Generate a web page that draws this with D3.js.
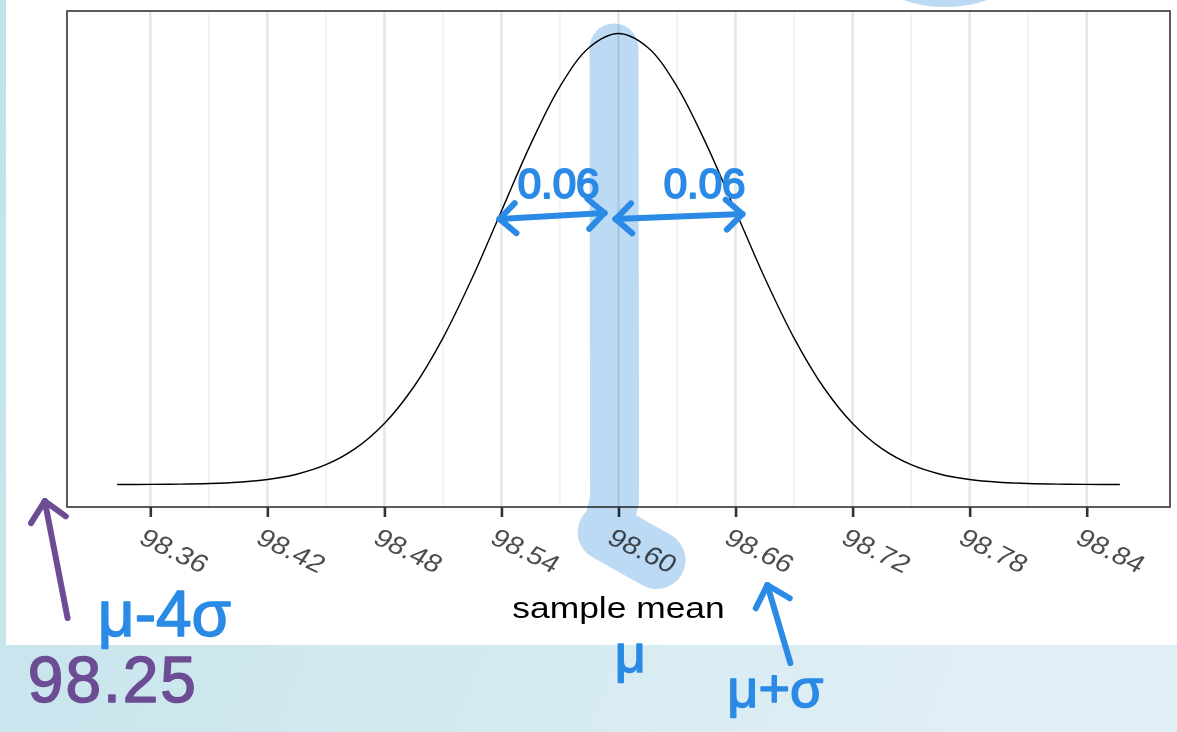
<!DOCTYPE html>
<head>
  <meta charset="utf-8">
  <title>Sample mean distribution</title>
  <style>
    body { margin: 0; background: #fff; }
    text { font-family: "Liberation Sans", Arial, sans-serif; }
  </style>
</head>
<body>
  <div id="chart"></div>
  <script src="https://d3js.org/d3.v7.min.js"></script>
  <script>
    // density curve
    var sampleMean = [98.343, 98.360, 98.375, 98.390, 98.405, 98.420, 98.435, 98.450, 98.465,
                      98.480, 98.495, 98.510, 98.525, 98.540, 98.555, 98.570, 98.585, 98.600,
                      98.615, 98.630, 98.645, 98.660, 98.675, 98.690, 98.705, 98.720, 98.735,
                      98.750, 98.765, 98.780, 98.795, 98.810, 98.825, 98.840, 98.857];
    var density = [0.001, 0.002, 0.006, 0.015, 0.034, 0.074, 0.152, 0.292, 0.529,
                   0.900, 1.438, 2.159, 3.044, 4.033, 5.019, 5.868, 6.444, 6.649,
                   6.444, 5.868, 5.019, 4.033, 3.044, 2.159, 1.438, 0.900, 0.529,
                   0.292, 0.152, 0.074, 0.034, 0.015, 0.006, 0.002, 0.001];
    var majorTicks = [98.36, 98.42, 98.48, 98.54, 98.60, 98.66, 98.72, 98.78, 98.84];
    var tickLabels = ["98.36", "98.42", "98.48", "98.54", "98.60", "98.66", "98.72", "98.78", "98.84"];
    var minorTicks = [98.39, 98.45, 98.51, 98.57, 98.63, 98.69, 98.75, 98.81];
    var xTitle = "sample mean";

    // hand-drawn notes, in (sample mean, density) units
    var highlightBand = [[98.5977, 6.436], [98.598, -0.229], [98.5939, -0.701]];
    var highlightBlob = [[98.5939, -0.701], [98.6195, -1.114]];
    var highlightTop = [98.7675, 7.468];
    var spanArrows = [[[98.539, 3.914], [98.5928, 4.003]],
                      [[98.5985, 3.914], [98.6635, 3.988]]];
    var spanLabels = [[98.5693, 4.224, "0.06"], [98.6441, 4.224, "0.06"]];
    var blueArrow = [[98.6881, -2.632], [98.6763, -1.482]];
    var blueNotes = [[98.6061, -2.76, "μ", 54], [98.6558, -3.281, "μ+σ", 54], [98.3331, -2.234, "μ-4σ", 64]];
    var purpleArrow = [[98.3176, -1.969], [98.3059, -0.244]];
    var purpleNote = [98.2972, -3.207, "98.25"];

    var width = 1177, height = 732;
    var margin = {top: 11, right: 7, bottom: 225, left: 67};
    var blue = "#2a8ae6", purple = "#6c4d94";

    var svg = d3.select("#chart").append("svg")
      .attr("width", width)
      .attr("height", height);

    // slide backdrop behind the screenshot
    var grad = svg.append("defs").append("linearGradient")
      .attr("id", "slide")
      .attr("x1", "0%").attr("x2", "100%").attr("y1", "0%").attr("y2", "25%");
    grad.append("stop").attr("offset", "0%").attr("stop-color", "#c2e2ea");
    grad.append("stop").attr("offset", "100%").attr("stop-color", "#e0eff5");
    svg.append("rect").attr("width", width).attr("height", height).attr("fill", "url(#slide)");
    svg.append("rect").attr("x", 6).attr("width", width - 6).attr("height", 645).attr("fill", "#fff");

    var xExt = d3.extent(sampleMean), yExt = d3.extent(density);
    var xPad = (xExt[1] - xExt[0]) * 0.05, yPad = (yExt[1] - yExt[0]) * 0.05;

    var x = d3.scaleLinear()
      .domain([xExt[0] - xPad, xExt[1] + xPad])
      .range([margin.left, width - margin.right]);
    var y = d3.scaleLinear()
      .domain([yExt[0] - yPad, yExt[1] + yPad])
      .range([height - margin.bottom, margin.top]);

    var panelTop = margin.top, panelBottom = height - margin.bottom;

    svg.append("g")
      .selectAll("line")
      .data(minorTicks)
      .join("line")
        .attr("x1", x).attr("x2", x)
        .attr("y1", panelTop).attr("y2", panelBottom)
        .attr("stroke", "#eeeeee")
        .attr("stroke-width", 1.4);

    svg.append("g")
      .selectAll("line")
      .data(majorTicks)
      .join("line")
        .attr("x1", x).attr("x2", x)
        .attr("y1", panelTop).attr("y2", panelBottom)
        .attr("stroke", "#e5e5e5")
        .attr("stroke-width", 2.4);

    var line = d3.line()
      .x(function(d) { return x(d[0]); })
      .y(function(d) { return y(d[1]); })
      .curve(d3.curveCatmullRom);

    svg.append("path")
      .datum(d3.zip(sampleMean, density))
      .attr("d", line)
      .attr("fill", "none")
      .attr("stroke", "#000")
      .attr("stroke-width", 1.4);

    svg.append("rect")
      .attr("x", margin.left).attr("y", panelTop)
      .attr("width", width - margin.left - margin.right)
      .attr("height", panelBottom - panelTop)
      .attr("fill", "none")
      .attr("stroke", "#333")
      .attr("stroke-width", 1.6);

    var axis = svg.append("g")
      .attr("transform", "translate(0," + panelBottom + ")")
      .call(d3.axisBottom(x)
        .tickValues(majorTicks)
        .tickSize(10)
        .tickFormat(function(d, i) { return tickLabels[i]; }))
      .attr("font-family", "Liberation Sans, Arial, sans-serif")
      .attr("font-size", 25);
    axis.select(".domain").remove();
    axis.selectAll(".tick line").attr("stroke", "#333").attr("stroke-width", 2.6);
    axis.selectAll(".tick text")
      .attr("x", 0).attr("y", 0).attr("dy", "0.71em")
      .attr("text-anchor", "start")
      .attr("fill", "#4d4d4d")
      .attr("transform", "translate(-3,20) scale(1.18,1) rotate(30)");

    svg.append("text")
      .attr("transform", "translate(" + ((margin.left + width - margin.right) / 2) + ",618) scale(1.18,1)")
      .attr("text-anchor", "middle")
      .attr("font-size", 30)
      .attr("fill", "#000")
      .text(xTitle);

    // highlighter, multiplied over what lies beneath
    var pt = d3.line().x(function(d) { return x(d[0]); }).y(function(d) { return y(d[1]); });
    var hl = svg.append("g").style("mix-blend-mode", "multiply");
    var hlColour = "#bddaf4";
    hl.append("path").attr("d", pt(highlightBand))
      .attr("fill", "none").attr("stroke", hlColour).attr("stroke-width", 49)
      .attr("stroke-linecap", "round").attr("stroke-linejoin", "round");
    hl.append("path").attr("d", pt(highlightBlob))
      .attr("fill", "none").attr("stroke", hlColour).attr("stroke-width", 58)
      .attr("stroke-linecap", "round");
    hl.append("ellipse")
      .attr("cx", x(highlightTop[0])).attr("cy", y(highlightTop[1]))
      .attr("rx", 64).attr("ry", 29)
      .attr("fill", hlColour);

    // pen strokes
    function head(g, tip, from, colour, len) {
      var ang = Math.atan2(from[1] - tip[1], from[0] - tip[0]);
      [-0.75, 0.75].forEach(function(a) {
        g.append("line")
          .attr("x1", tip[0]).attr("y1", tip[1])
          .attr("x2", tip[0] + len * Math.cos(ang + a))
          .attr("y2", tip[1] + len * Math.sin(ang + a))
          .attr("stroke", colour);
      });
    }

    var pen = svg.append("g")
      .attr("stroke-width", 6)
      .attr("stroke-linecap", "round")
      .attr("fill", "none");

    spanArrows.forEach(function(a) {
      var p0 = [x(a[0][0]), y(a[0][1])], p1 = [x(a[1][0]), y(a[1][1])];
      pen.append("line")
        .attr("x1", p0[0]).attr("y1", p0[1]).attr("x2", p1[0]).attr("y2", p1[1])
        .attr("stroke", blue);
      head(pen, p0, p1, blue, 22);
      head(pen, p1, p0, blue, 22);
    });

    [[blueArrow, blue], [purpleArrow, purple]].forEach(function(a) {
      var p0 = [x(a[0][0][0]), y(a[0][0][1])], p1 = [x(a[0][1][0]), y(a[0][1][1])];
      pen.append("line")
        .attr("x1", p0[0]).attr("y1", p0[1]).attr("x2", p1[0]).attr("y2", p1[1])
        .attr("stroke", a[1]);
      head(pen, p1, p0, a[1], 26);
    });

    var notes = svg.append("g")
      .attr("font-family", "DejaVu Sans, sans-serif")
      .attr("stroke-linejoin", "round");

    notes.selectAll("text.span")
      .data(spanLabels)
      .join("text")
        .attr("class", "span")
        .attr("x", function(d) { return x(d[0]); })
        .attr("y", function(d) { return y(d[1]); })
        .attr("text-anchor", "middle")
        .attr("font-size", 42)
        .attr("fill", blue).attr("stroke", blue).attr("stroke-width", 2)
        .text(function(d) { return d[2]; });

    notes.selectAll("text.blue")
      .data(blueNotes)
      .join("text")
        .attr("class", "blue")
        .attr("x", function(d) { return x(d[0]); })
        .attr("y", function(d) { return y(d[1]); })
        .attr("text-anchor", function(d, i) { return i === 0 ? "middle" : "start"; })
        .attr("font-size", function(d) { return d[3]; })
        .attr("fill", blue).attr("stroke", blue).attr("stroke-width", 1.5)
        .text(function(d) { return d[2]; });

    notes.append("text")
      .attr("x", x(purpleNote[0]))
      .attr("y", y(purpleNote[1]))
      .attr("font-size", 64)
      .attr("letter-spacing", 2)
      .attr("fill", purple).attr("stroke", purple).attr("stroke-width", 1.5)
      .text(purpleNote[2]);
  </script>
</body>
